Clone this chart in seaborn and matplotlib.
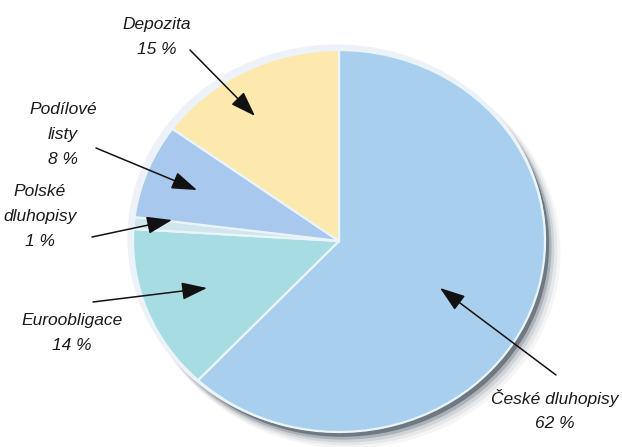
import matplotlib
matplotlib.use("Agg")
import matplotlib.pyplot as plt
from matplotlib.patches import Ellipse
import seaborn as sns

# Portfolio structure (percent), clockwise from 12 o'clock
categories = ["České dluhopisy", "Euroobligace", "Polské dluhopisy", "Podílové listy", "Depozita"]
shares = [62, 14, 1, 8, 15]
label_lines = [
    ["České dluhopisy"],
    ["Euroobligace"],
    ["Polské", "dluhopisy"],
    ["Podílové", "listy"],
    ["Depozita"],
]
slice_colors = ["#a9cfef", "#a7dde2", "#cfe6ef", "#a8c8ee", "#fde8ad"]

sns.set_theme(style="white")
plt.rcParams["font.family"] = ["Liberation Sans", "DejaVu Sans"]
palette = sns.color_palette(slice_colors)

W, H = 622, 447
fig = plt.figure(figsize=(W / 100, H / 100), dpi=100)
fig.patch.set_facecolor("white")

# Pie axes (slightly wider than tall, giving the tilted look)
left, right, top, bottom = 133, 545, 50, 432
pax = fig.add_axes([left / W, 1 - bottom / H, (right - left) / W, (bottom - top) / H])
pax.set_xlim(-1, 1)
pax.set_ylim(-1, 1)
pax.axis("off")

# soft drop shadow towards lower right
for i, (dx, dy, a) in enumerate([(0.05, -0.06, 0.05), (0.04, -0.05, 0.08), (0.03, -0.04, 0.12),
                                  (0.022, -0.03, 0.25), (0.015, -0.02, 0.55)]):
    pax.add_patch(Ellipse((dx, dy), 2.0 + 0.01 * (5 - i), 2.0 + 0.01 * (5 - i),
                          facecolor="#3d4b57", edgecolor="none", alpha=a, zorder=0,
                          clip_on=False))
# light highlight rim on the upper left
pax.add_patch(Ellipse((-0.012, 0.014), 2.03, 2.03, facecolor="#eef2f8",
                      edgecolor="none", zorder=0.5, clip_on=False))

wedges, _ = pax.pie(shares, colors=palette, startangle=90, counterclock=False,
                    radius=1.0,
                    wedgeprops=dict(edgecolor="#eaf4fb", linewidth=1.6, zorder=1))
for w in wedges:
    w.set_clip_on(False)
pax.set_aspect("auto")
pax.set_xlim(-1, 1)
pax.set_ylim(-1, 1)

# Overlay axes in pixel coordinates for labels and arrows
ax = fig.add_axes([0, 0, 1, 1], facecolor="none")
ax.set_xlim(0, W)
ax.set_ylim(H, 0)
ax.axis("off")

# label centre (x, y of first line) and arrow (tail -> head)
label_pos = [(555, 398), (72, 321), (40, 192), (63, 110), (157, 24)]
arrows = [((556, 375), (440, 288)),
          ((93, 302), (207, 288)),
          ((92, 237), (172, 220)),
          ((96, 148), (197, 190)),
          ((190, 50), (255, 116))]
line_gap = 25

for lines, share, (lx, ly), (tail, head) in zip(label_lines, shares, label_pos, arrows):
    for k, t in enumerate(lines + [f"{share} %"]):
        ax.text(lx, ly + k * line_gap, t, ha="center", va="center",
                fontsize=12.5, style="italic", color="#1a1a1a")
    ax.annotate("", xy=head, xytext=tail,
                arrowprops=dict(arrowstyle="-|>,head_length=1.3,head_width=0.45",
                                color="#111111", lw=1.1, shrinkA=0, shrinkB=0))

fig.savefig("out.png", dpi=100, facecolor="white")
